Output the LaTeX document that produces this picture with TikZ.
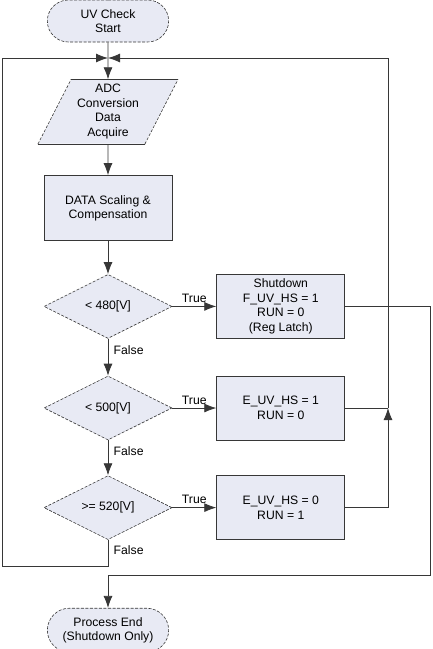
\documentclass[tikz,border=0pt]{standalone}
\usepackage{fontspec}
\setmainfont{Liberation Sans}
\usetikzlibrary{positioning,shapes.geometric,shapes.misc,arrows.meta}
\definecolor{boxfill}{RGB}{232,234,244}
\definecolor{linegray}{RGB}{55,55,55}
\begin{document}
\begin{tikzpicture}[
                            node distance=34pt,
                            >={Latex[length=12pt,width=9pt]},
                            font=\fontsize{12.2}{14.5}\selectfont,
                            line width=0.8pt,
                            draw=linegray,
                            terminal/.style={rounded rectangle, draw=linegray, fill=boxfill, dash pattern=on 3pt off 1.5pt, line width=0.6pt, minimum width=128pt, minimum height=42pt, align=center},
                            iobox/.style={trapezium, trapezium left angle=63.4, trapezium right angle=116.6, trapezium stretches=true, fill=boxfill, minimum width=139pt, minimum height=64pt, align=center},
                            procbox/.style={rectangle, draw=linegray, fill=boxfill, line width=1pt, minimum width=128pt, minimum height=64pt, align=center},
                            decision/.style={diamond, draw=linegray, fill=boxfill, dash pattern=on 3pt off 1.5pt, line width=0.6pt, aspect=2, inner sep=0pt, minimum width=128pt, minimum height=64pt, align=center}
                        ]
                        \useasboundingbox (0,0) rectangle (432pt,-649pt);
                        % Blocks
                        \node [terminal] (start) at (108pt,-21pt) {UV Check\\Start};
                        \node [iobox, below=37pt of start] (adc) {ADC\\Conversion\\Data\\Acquire};
                        \node [procbox, below=31pt of adc, minimum height=65pt] (scale) {DATA Scaling \&\\Compensation};
                        \node [decision, below=33pt of scale] (chk1) {< 480[V]};
                        \node [decision, below=37pt of chk1] (chk2) {< 500[V]};
                        \node [decision, below=35pt of chk2] (chk3) {>= 520[V]};
                        \node [terminal, below=68pt of chk3, minimum height=44pt] (stop) {Process End\\(Shutdown Only)};
                        \node [procbox, right=44pt of chk1] (set1) {Shutdown\\F\_UV\_HS = 1\\RUN = 0\\(Reg Latch)};
                        \node [procbox, right=44pt of chk2] (set2) {E\_UV\_HS = 1\\RUN = 0};
                        \node [procbox, right=44pt of chk3] (set3) {E\_UV\_HS = 0\\RUN = 1};

                        % ADC edges
                        \draw [line width=0.6pt] (adc.top left corner) -- (adc.top right corner);
                        \draw [line width=0.6pt] (adc.bottom left corner) -- (adc.bottom right corner);
                        \draw [line width=0.6pt, dash pattern=on 3pt off 1.5pt] (adc.bottom left corner) -- (adc.top left corner);
                        \draw [line width=0.6pt, dash pattern=on 3pt off 1.5pt] (adc.bottom right corner) -- (adc.top right corner);

                        % Bus points
                        \coordinate (merge) at (108pt,-58pt);
                        \coordinate (busL) at (2pt,-58pt);
                        \coordinate (busR) at (388pt,-58pt);
                        \coordinate (joinR) at (busR |- set2.east);
                        \coordinate (outBot) at (430pt,-575pt);

                        % Connections
                        \draw [->] (start) -- (adc);
                        \draw [->] (adc) -- (scale);
                        \draw [->] (scale) -- (chk1);
                        \draw [->] (chk1) --node[above]{True} (set1);
                        \draw [->] (chk2) --node[above]{True} (set2);
                        \draw [->] (chk3) --node[above]{True} (set3);
                        \draw [->] (chk1) --node[right,pos=0.3,xshift=2pt]{False} (chk2);
                        \draw [->] (chk2) --node[right,pos=0.3,xshift=2pt]{False} (chk3);
                        \draw [->] (chk3.south) --node[right,pos=0.4,xshift=2pt]{False} ++(0,-26pt) -| (busL) -- (merge);
                        \draw (set2.east) -- (joinR);
                        \draw [->] (set3.east) -| (joinR);
                        \draw [->] (joinR) -- (busR) -- (merge);
                        \draw [->] (set1.east) -| (outBot) -| (stop.north);
                    \end{tikzpicture}
\end{document}
